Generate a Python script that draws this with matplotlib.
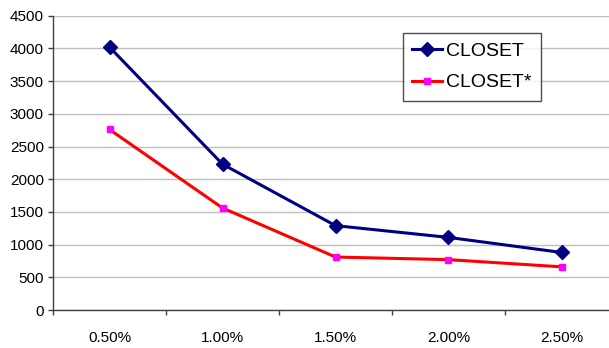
import matplotlib
matplotlib.use("Agg")
import matplotlib.pyplot as plt
from matplotlib import font_manager
import numpy as np

# --- data ---
supports = ["0.50%", "1.00%", "1.50%", "2.00%", "2.50%"]
closet = [4020, 2230, 1290, 1110, 880]
closet_star = [2760, 1560, 810, 770, 660]

# narrow Arial-like face if present
names = {f.name for f in font_manager.fontManager.ttflist}
family = "Liberation Sans Narrow" if "Liberation Sans Narrow" in names else "Liberation Sans"
plt.rcParams["font.family"] = [family, "DejaVu Sans"]

fig = plt.figure(figsize=(6.09, 3.48), dpi=100)
# axes runs a bit past the right edge, like the cropped original
ax = fig.add_axes([53 / 609, 38 / 348, 565 / 609, 294.3 / 348])

x = np.arange(len(supports))
ax.plot(x, closet, color="#000080", lw=2.2, marker="D", ms=7.5,
        mfc="#000080", mec="#000080", label="CLOSET", zorder=3)
ax.plot(x, closet_star, color="#ff0000", lw=2.2, marker="s", ms=4.8,
        mfc="#ff00ff", mec="#ff00ff", label="CLOSET*", zorder=3)

ax.set_xlim(-0.5, len(supports) - 0.5)
ax.set_ylim(0, 4500)
ax.set_yticks(np.arange(0, 4501, 500))
ax.set_xticks(x)
ax.set_xticklabels(supports)
ax.set_xticks(np.arange(-0.5, len(supports)), minor=True)

ax.grid(axis="y", color="#c0c0c0", lw=1)
ax.set_axisbelow(True)
for s in ("top", "right"):
    ax.spines[s].set_visible(False)
for s in ("left", "bottom"):
    ax.spines[s].set_color("#404040")
    ax.spines[s].set_linewidth(1)

ax.tick_params(axis="y", length=3.6, width=1, color="#404040", pad=3,
               labelsize=11)
ax.tick_params(axis="x", which="major", length=0, pad=15, labelsize=11)
ax.tick_params(axis="x", which="minor", length=3.6, width=1, color="#404040")

leg = ax.legend(loc="upper left", bbox_to_anchor=(0.619, 0.942),
                fontsize=14, frameon=True, fancybox=False, handlelength=1.5,
                borderpad=0.5, labelspacing=0.7, handletextpad=0.2,
                borderaxespad=0)
leg.get_frame().set_edgecolor("#202020")
leg.get_frame().set_linewidth(1)

fig.savefig("out.png", dpi=100)
